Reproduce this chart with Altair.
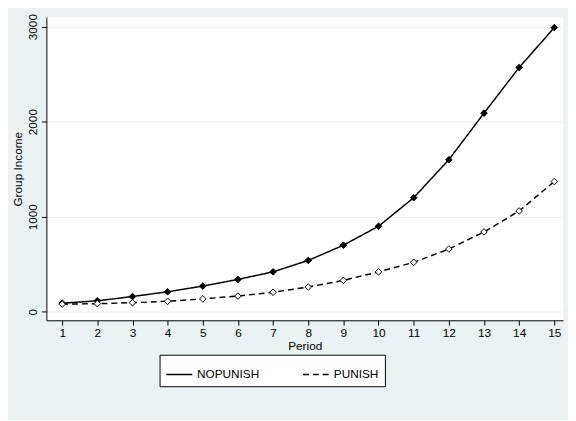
import altair as alt
import pandas as pd

periods = list(range(1, 16))
nopunish = [90, 115, 160, 210, 270, 340, 420, 540, 700, 900, 1200, 1600, 2090, 2570, 2990]
punish = [80, 85, 95, 110, 135, 165, 205, 260, 330, 420, 520, 660, 840, 1060, 1370]

df = pd.DataFrame({
    "Period": periods * 2,
    "Income": nopunish + punish,
    "Group": ["NOPUNISH"] * 15 + ["PUNISH"] * 15,
})

x = alt.X("Period:Q", title="Period", scale=alt.Scale(domain=[0.55, 15.25], nice=False, zero=False),
          axis=alt.Axis(values=periods, grid=False, tickSize=5, labelFontSize=12, titleFontSize=12, titlePadding=3))
y = alt.Y("Income:Q", title="Group Income", scale=alt.Scale(domain=[-90, 3100], nice=False),
          axis=alt.Axis(values=[0, 1000, 2000, 3000], format="d", gridColor="#eaf2f3", labelAngle=-90,
                        labelAlign="center", labelBaseline="bottom", tickSize=5,
                        labelFontSize=12, titleFontSize=12, titlePadding=2))
color = alt.Color("Group:N", scale=alt.Scale(range=["black", "black"]), legend=None)
dash = alt.StrokeDash("Group:N", scale=alt.Scale(domain=["NOPUNISH", "PUNISH"], range=[[1, 0], [6, 4]]),
                      legend=alt.Legend(title=None, orient="none", legendX=115, legendY=343, direction="horizontal",
                                        symbolType="stroke", symbolSize=700, symbolStrokeWidth=1.5,
                                        symbolStrokeColor="black",
                                        labelFontSize=12, columnPadding=40, padding=6,
                                        strokeColor="black", fillColor="white"))

lines = alt.Chart(df).mark_line(strokeWidth=1.5).encode(x=x, y=y, color=color, strokeDash=dash)
pts = alt.Chart(df).mark_point(shape="diamond", size=45, strokeWidth=1, opacity=1).encode(
    x=x, y=y,
    fill=alt.Fill("Group:N", scale=alt.Scale(domain=["NOPUNISH", "PUNISH"], range=["black", "white"]), legend=None),
    stroke=alt.value("black"))

chart = (lines + pts).properties(width=525, height=308, padding={"left": 4, "top": 2, "right": 5, "bottom": 30}).configure(background="#eaf2f3").configure_view(
    fill="white", stroke=None).configure_axis(domainColor="black", tickColor="black", labelColor="black",
                                              titleColor="black", titleFontWeight="normal", labelFont="Arial",
                                              titleFont="Arial").configure_legend(labelFont="Arial")
chart.save("out.html", embed_options={"renderer": "svg", "actions": False})
